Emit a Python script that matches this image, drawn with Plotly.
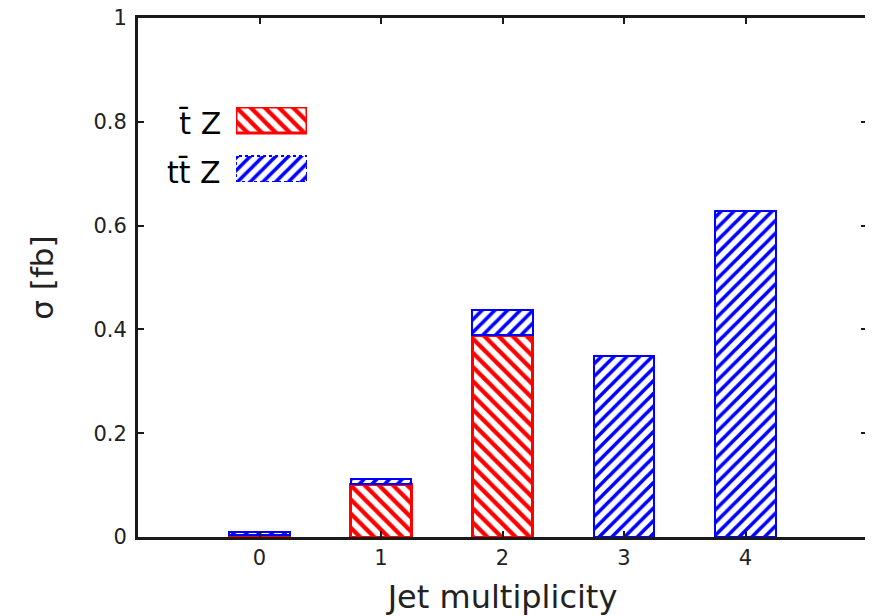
import plotly.graph_objects as go

categories = [0, 1, 2, 3, 4]
tbarZ = [0.004, 0.102, 0.389, None, None]
ttbarZ = [0.005, 0.010, 0.048, 0.349, 0.628]
y_ticks = [0, 0.2, 0.4, 0.6, 0.8, 1]
legend_labels = ["t\u0304 Z", "tt\u0304 Z"]

FONT = "DejaVu Sans, Liberation Sans, sans-serif"
AX = "#1a1a1a"
TXT = "#222"

red_pat = dict(shape="\\", fgcolor="red", bgcolor="white", size=10, solidity=0.42, fgopacity=1)
blue_pat = dict(shape="/", fgcolor="blue", bgcolor="white", size=9, solidity=0.4, fgopacity=1)

fig = go.Figure()
fig.add_trace(go.Bar(
    x=categories, y=tbarZ, width=0.5, name=legend_labels[0],
    marker=dict(color="white", line=dict(color="red", width=3), pattern=red_pat),
    showlegend=False,
))
fig.add_trace(go.Bar(
    x=categories, y=ttbarZ, width=0.5, name=legend_labels[1],
    marker=dict(color="white", line=dict(color="blue", width=2), pattern=blue_pat),
    showlegend=False,
))

# custom legend swatches on an overlay axis pair
fig.add_trace(go.Scatter(
    x=[0, 1, 1, 0, 0], y=[0.653, 0.653, 1, 1, 0.653], xaxis="x2", yaxis="y2",
    mode="lines", fill="toself", line=dict(color="red", width=3),
    fillcolor="white", fillpattern=red_pat,
    showlegend=False, hoverinfo="skip",
))
fig.add_trace(go.Scatter(
    x=[0, 1, 1, 0, 0], y=[0, 0, 0.347, 0.347, 0], xaxis="x2", yaxis="y2",
    mode="lines", fill="toself", line=dict(color="blue", width=2, dash="dot"),
    fillcolor="white", fillpattern=blue_pat,
    showlegend=False, hoverinfo="skip",
))

fig.add_annotation(text=legend_labels[0], xref="paper", yref="paper", x=0.117, y=0.7975,
                   xanchor="right", yanchor="middle", showarrow=False,
                   font=dict(family=FONT, size=30, color="black"))
fig.add_annotation(text=legend_labels[1], xref="paper", yref="paper", x=0.117, y=0.703,
                   xanchor="right", yanchor="middle", showarrow=False,
                   font=dict(family=FONT, size=30, color="black"))

# page body has an 8px margin: shrink the figure so the plot area lands where the reference has it
fig.update_layout(
    width=865, height=608,
    margin=dict(l=130, r=6, t=10, b=79, autoexpand=False),
    paper_bgcolor="white", plot_bgcolor="white",
    barmode="stack",
    font=dict(family=FONT, color=TXT),
    xaxis=dict(
        range=[-1, 5], tickvals=categories, ticktext=[str(c) for c in categories],
        ticks="inside", ticklen=6, tickwidth=2, tickcolor=AX,
        showline=True, linecolor=AX, linewidth=3, mirror="ticks",
        showgrid=False, zeroline=False, automargin=False, ticklabeloverflow="allow",
        tickfont=dict(family=FONT, size=21, color=TXT),
        title=dict(text="Jet multiplicity", font=dict(family=FONT, size=32, color=TXT), standoff=18),
    ),
    yaxis=dict(
        range=[0, 1], tickvals=y_ticks,
        ticks="inside", ticklen=6, tickwidth=2, tickcolor=AX,
        showline=True, linecolor=AX, linewidth=3, mirror="ticks",
        showgrid=False, zeroline=False, automargin=False, ticklabeloverflow="allow",
        ticklabelstandoff=4,
        tickfont=dict(family=FONT, size=21, color=TXT),
        title=dict(text="σ [fb]", font=dict(family=FONT, size=31, color=TXT), standoff=31),
    ),
    xaxis2=dict(domain=[0.1344, 0.2318], range=[0, 1], anchor="y2", visible=False, fixedrange=True),
    yaxis2=dict(domain=[0.684, 0.8285], range=[0, 1], anchor="x2", visible=False, fixedrange=True),
)

fig.write_html("out.html")
